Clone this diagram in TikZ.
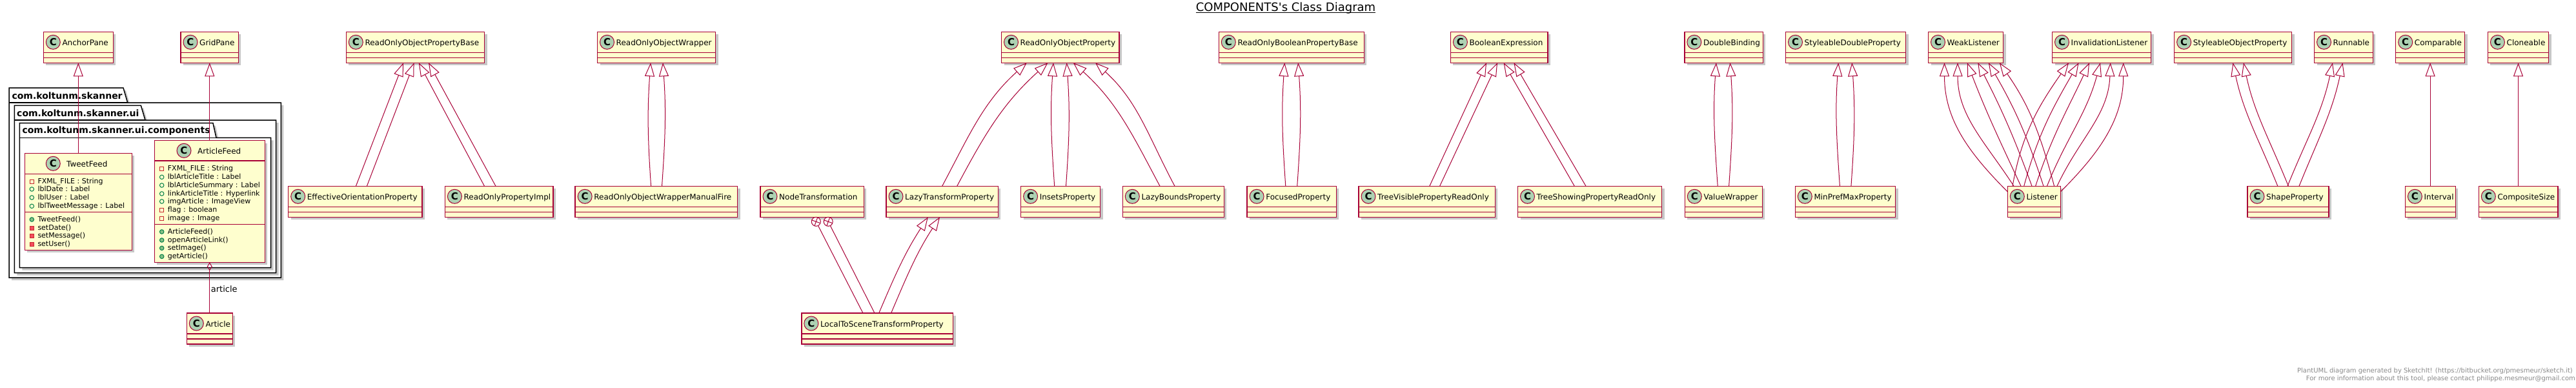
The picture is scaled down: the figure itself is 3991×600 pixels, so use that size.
\documentclass[tikz,border=0pt]{standalone}
\usepackage{fontspec}
\setmainfont{DejaVu Sans}
\usetikzlibrary{arrows.meta,shadows}
\definecolor{cfill}{HTML}{FEFECE}
\definecolor{cborder}{HTML}{A80036}
\definecolor{ccirc}{HTML}{ADD1B2}
\definecolor{privc}{HTML}{C82930}
\definecolor{privf}{HTML}{F24D5C}
\definecolor{pubc}{HTML}{038048}
\definecolor{pubf}{HTML}{84BE84}
\definecolor{foot}{HTML}{888888}
\tikzset{
 shd/.style={drop shadow={shadow xshift=4pt,shadow yshift=-4pt,opacity=0.22,fill=black}},
 clsbox/.style={rectangle,draw=cborder,fill=cfill,line width=1.5pt,inner sep=0pt,outer sep=0pt,minimum height=48pt,shd},
 clsline/.style={draw=cborder,line width=1.5pt},
 cicon/.style={circle,draw=cborder,fill=ccirc,line width=1pt,minimum size=22pt,inner sep=0pt,font=\fontsize{15}{15}\selectfont\bfseries},
 cname/.style={anchor=base west,inner sep=0pt,font=\fontsize{12}{14}\selectfont},
 mname/.style={anchor=base west,inner sep=0pt,font=\fontsize{11}{13}\selectfont},
 inh/.style={draw=cborder,line width=1pt,-{Triangle[open,length=21pt,width=15pt]}},
 assoc/.style={draw=cborder,line width=1pt},
 privfield/.style={rectangle,draw=privc,line width=1pt,minimum size=6pt,inner sep=0pt},
 privmeth/.style={privfield,fill=privf},
 pubfield/.style={circle,draw=pubc,line width=1pt,minimum size=6.5pt,inner sep=0pt},
 pubmeth/.style={pubfield,fill=pubf},
 pkg/.style={draw=black,line width=1.5pt,fill=white,shd},
 pkgname/.style={anchor=base west,inner sep=0pt,font=\fontsize{14}{16}\selectfont\bfseries},
 nest/.style={circle,draw=cborder,fill=white,line width=1pt,minimum size=14pt,inner sep=0pt,outer sep=0pt},
 bowl/.style={out=94,in=266},
 bowr/.style={out=86,in=274},
}
% #1 name, #2 left, #3 top, #4 right, #5 text
\newcommand\umlcls[5]{%
  \node[clsbox,minimum width={#4-#2},anchor=north west] (#1) at (#2,-#3) {};
  \draw[clsline] ([yshift=-32pt]#1.north west) -- ([yshift=-32pt]#1.north east)
                 ([yshift=-40pt]#1.north west) -- ([yshift=-40pt]#1.north east);
  \node[cicon] (#1c) at ([xshift=15pt,yshift=-16pt]#1.north west) {C};
  \node[cname] (#1t) at ([xshift=29pt,yshift=-21pt]#1.north west) {#5};
}
% #1 style, #2 x icon, #3 y, #4 text, #5 name
\newcommand\umlmem[5]{%
  \node[#1] (#5i) at (#2,-#3-1) {};
  \node[mname] (#5) at (#2+9,-#3-4) {#4};
}
% child, x at child, parent, x at parent, to-options
\newcommand\inhe[5]{\draw[inh] (#2,0 |- #1.north) to[#5] (#4,0 |- #3.south);}
\begin{document}
\begin{tikzpicture}[x=1pt,y=1pt]
\useasboundingbox (0,0) rectangle (3991,-600);

% title
\node[inner sep=0pt,anchor=base,font=\fontsize{18}{20}\selectfont] (title) at (1992,-17) {COMPONENTS\textquotesingle s Class Diagram};
\draw[line width=1pt] ([yshift=-2.5pt]title.base west) -- ([yshift=-2.5pt]title.base east);

% packages
\path[pkg] (14,-136) -- (191,-136) -- (197.7,-159) -- (435.3,-159) -- (435.3,-430) -- (14,-430) -- cycle;
\draw[line width=1.5pt] (14,-159) -- (197.7,-159);
\node[pkgname] (p1) at (18.3,-153) {com.koltunm.skanner};
\path[pkg] (22.3,-163.3) -- (218.3,-163.3) -- (225,-186) -- (427.7,-186) -- (427.7,-422.7) -- (22.3,-422.7) -- cycle;
\draw[line width=1.5pt] (22.3,-186) -- (225,-186);
\node[pkgname] (p2) at (26,-180) {com.koltunm.skanner.ui};
\path[pkg] (30.3,-190.7) -- (330,-190.7) -- (335,-213.3) -- (419.7,-213.3) -- (419.7,-414.7) -- (30.3,-414.7) -- cycle;
\draw[line width=1.5pt] (30.3,-213.3) -- (335,-213.3);
\node[pkgname] (p3) at (34.3,-206.7) {com.koltunm.skanner.ui.components};

% TweetFeed
\node[clsbox,minimum width=166pt,minimum height=150pt,anchor=north west] (tf) at (38.3,-237.3) {};
\draw[clsline] (tf.west |- 0,-269.3) -- (tf.east |- 0,-269.3) (tf.west |- 0,-328.7) -- (tf.east |- 0,-328.7);
\node[cicon] (tfc) at (82.3,-253.3) {C};
\node[cname] (tft) at (103,-258.5) {TweetFeed};
\umlmem{privfield}{49.3}{280}{FXML\_FILE : String}{tfa}
\umlmem{pubfield}{49.3}{292}{lblDate : Label}{tfb}
\umlmem{pubfield}{49.3}{305}{lblUser : Label}{tfd}
\umlmem{pubfield}{49.3}{318.3}{lblTweetMessage : Label}{tfe}
\umlmem{pubmeth}{49.3}{339}{TweetFeed()}{tff}
\umlmem{privmeth}{49.3}{352}{setDate()}{tfg}
\umlmem{privmeth}{49.3}{364.3}{setMessage()}{tfh}
\umlmem{privmeth}{49.3}{377.3}{setUser()}{tfk}

% ArticleFeed
\node[clsbox,minimum width=171pt,minimum height=188.6pt,anchor=north west] (af) at (239.3,-217.7) {};
\draw[clsline] (af.west |- 0,-249) -- (af.east |- 0,-249) (af.west |- 0,-347.7) -- (af.east |- 0,-347.7);
\node[cicon] (afc) at (285,-233.3) {C};
\node[cname] (aft) at (306,-238.5) {ArticleFeed};
\umlmem{privfield}{250.7}{260}{FXML\_FILE : String}{afa}
\umlmem{pubfield}{250.7}{273.3}{lblArticleTitle : Label}{afb}
\umlmem{pubfield}{250.7}{286}{lblArticleSummary : Label}{afd}
\umlmem{pubfield}{250.7}{299}{linkArticleTitle : Hyperlink}{afe}
\umlmem{pubfield}{250.7}{311}{imgArticle : ImageView}{aff}
\umlmem{privfield}{250.7}{324}{flag : boolean}{afg}
\umlmem{privfield}{250.7}{337.3}{image : Image}{afh}
\umlmem{pubmeth}{250.7}{358}{ArticleFeed()}{afk}
\umlmem{pubmeth}{250.7}{371}{openArticleLink()}{afl}
\umlmem{pubmeth}{250.7}{383.3}{setImage()}{afm}
\umlmem{pubmeth}{250.7}{396.3}{getArticle()}{afn}

% top row
\umlcls{anchorp}{67.3}{49.3}{175.3}{AnchorPane}
\umlcls{grid}{280}{49.3}{369.3}{GridPane}
\umlcls{roopb}{536.3}{49.3}{750.5}{ReadOnlyObjectPropertyBase}
\umlcls{roow}{925.5}{49.3}{1108.6}{ReadOnlyObjectWrapper}
\umlcls{roop}{1551.5}{49.3}{1734.2}{ReadOnlyObjectProperty}
\umlcls{robpb}{1888.3}{49.3}{2113.3}{ReadOnlyBooleanPropertyBase}
\umlcls{bexp}{2247.4}{49.3}{2398}{BooleanExpression}
\umlcls{dbind}{2609.8}{49.3}{2731.3}{DoubleBinding}
\umlcls{sdp}{2766.5}{49.3}{2952.7}{StyleableDoubleProperty}
\umlcls{weak}{2987.5}{49.3}{3103.6}{WeakListener}
\umlcls{inval}{3179.5}{49.3}{3332.7}{InvalidationListener}
\umlcls{sop}{3368.6}{49.3}{3550.6}{StyleableObjectProperty}
\umlcls{runn}{3585.5}{49.3}{3676.3}{Runnable}
\umlcls{compa}{3711.7}{49.3}{3818.5}{Comparable}
\umlcls{clone}{3854.4}{49.3}{3948.5}{Cloneable}

% bottom row
\umlcls{eop}{446.7}{288.3}{654}{EffectiveOrientationProperty}
\umlcls{ropi}{689.4}{288.3}{857.2}{ReadOnlyPropertyImpl}
\umlcls{roowmf}{891.2}{288.3}{1142.5}{ReadOnlyObjectWrapperManualFire}
\umlcls{nt}{1178}{288.3}{1338.3}{NodeTransformation}
\umlcls{ltp}{1373}{288.3}{1546.4}{LazyTransformProperty}
\umlcls{insets}{1581.6}{288.3}{1704.6}{InsetsProperty}
\umlcls{lbp}{1739.3}{288.3}{1896.4}{LazyBoundsProperty}
\umlcls{focused}{1932.1}{288.3}{2070.4}{FocusedProperty}
\umlcls{tvpro}{2105}{288.3}{2316.3}{TreeVisiblePropertyReadOnly}
\umlcls{tspro}{2351.5}{288.3}{2574.5}{TreeShowingPropertyReadOnly}
\umlcls{vw}{2610.3}{288.3}{2730.4}{ValueWrapper}
\umlcls{mpmp}{2781.3}{288.3}{2936.6}{MinPrefMaxProperty}
\umlcls{lis}{3110.3}{288.3}{3192.4}{Listener}
\umlcls{shape}{3482}{288.3}{3607.8}{ShapeProperty}
\umlcls{interval}{3726.4}{288.3}{3804.3}{Interval}
\umlcls{csize}{3840.3}{288.3}{3962.7}{CompositeSize}

% third row
\umlcls{ltstp}{1241.8}{485}{1476.5}{LocalToSceneTransformProperty}
\umlcls{article}{289.3}{485}{360.3}{Article}

% connectors
\inhe{tf}{121.3}{anchorp}{121.3}{}
\inhe{af}{324.8}{grid}{324.8}{}
\draw[assoc,{Diamond[open,length=13pt,width=8pt]}-] (af.south) -- (article.north);
\node[anchor=west,inner sep=0pt,font=\fontsize{13}{15}\selectfont] (artlbl) at (326.7,-447.3) {article};

\inhe{eop}{551.4}{roopb}{625}{}
\inhe{eop}{568.4}{roopb}{641.6}{}
\inhe{ropi}{750.5}{roopb}{648.8}{}
\inhe{ropi}{768}{roopb}{664}{}
\inhe{roowmf}{1008.6}{roow}{1008}{bowl}
\inhe{roowmf}{1025.5}{roow}{1027}{bowr}
\inhe{ltp}{1459.7}{roop}{1590.8}{out=62,in=222}
\inhe{ltp}{1482.7}{roop}{1623.5}{out=62,in=222}
\inhe{insets}{1633.7}{roop}{1632}{bowl}
\inhe{insets}{1651.5}{roop}{1652.6}{bowr}
\inhe{lbp}{1797}{roop}{1662.8}{out=118,in=318}
\inhe{lbp}{1820}{roop}{1697}{out=118,in=318}

\node[nest] (np1) at (1264.3,-343.3) {};
\node[nest] (np2) at (1283.2,-343.3) {};
\draw[assoc] (np1.70) -- (np1.250) (np1.160) -- (np1.340);
\draw[assoc] (np2.70) -- (np2.250) (np2.160) -- (np2.340);
\draw[assoc] (np1) -- (1337,0 |- ltstp.north);
\draw[assoc] (np2) -- (1355,0 |- ltstp.north);
\inhe{ltstp}{1361.7}{ltp}{1437.8}{out=67,in=237}
\inhe{ltstp}{1380.6}{ltp}{1456}{out=67,in=237}

\inhe{focused}{1991.8}{robpb}{1990.3}{bowl}
\inhe{focused}{2009.7}{robpb}{2011.2}{bowr}
\inhe{tvpro}{2214.8}{bexp}{2303}{}
\inhe{tvpro}{2230.6}{bexp}{2320}{}
\inhe{tspro}{2439.3}{bexp}{2329.6}{}
\inhe{tspro}{2457}{bexp}{2345.4}{}
\inhe{vw}{2661.2}{dbind}{2658.9}{bowl}
\inhe{vw}{2678.6}{dbind}{2680.4}{bowr}
\inhe{mpmp}{2850.4}{sdp}{2848.2}{bowl}
\inhe{mpmp}{2867.9}{sdp}{2869.2}{bowr}

\draw[inh] (lis.west |- 0,-297) to[out=135,in=270] (3012.5,0 |- weak.south);
\inhe{lis}{3120}{weak}{3033}{out=123,in=270}
\inhe{lis}{3131}{weak}{3047.8}{out=115,in=291}
\inhe{lis}{3148}{weak}{3064.3}{out=110,in=297}
\inhe{lis}{3166}{weak}{3080.8}{out=108,in=300}
\inhe{lis}{3182.6}{weak}{3097.8}{out=105,in=305}
\inhe{lis}{3118}{inval}{3205}{out=80,in=235}
\inhe{lis}{3135.7}{inval}{3220.5}{out=75,in=240}
\inhe{lis}{3153.6}{inval}{3237}{out=72,in=245}
\inhe{lis}{3171.4}{inval}{3254}{out=68,in=255}
\inhe{lis}{3187}{inval}{3269.6}{out=65,in=268}
\draw[inh] (lis.east |- 0,-297) to[out=45,in=270] (3289.7,0 |- inval.south);

\inhe{shape}{3528.8}{sop}{3459.4}{out=112,in=282}
\inhe{shape}{3545.4}{sop}{3475.9}{out=112,in=282}
\inhe{shape}{3544}{runn}{3613.9}{out=68,in=258}
\inhe{shape}{3562}{runn}{3629.5}{out=68,in=258}
\inhe{interval}{3765.1}{compa}{3765.1}{}
\inhe{csize}{3901.5}{clone}{3901.5}{}

% footer
\node[anchor=base east,inner sep=0pt,text=foot,font=\fontsize{10}{12}\selectfont] (foot1) at (3986,-577) {PlantUML diagram generated by SketchIt! (https://bitbucket.org/pmesmeur/sketch.it)};
\node[anchor=base east,inner sep=0pt,text=foot,font=\fontsize{10}{12}\selectfont] (foot2) at (3990,-589) {For more information about this tool, please contact philippe.mesmeur@gmail.com};
\end{tikzpicture}
\end{document}
